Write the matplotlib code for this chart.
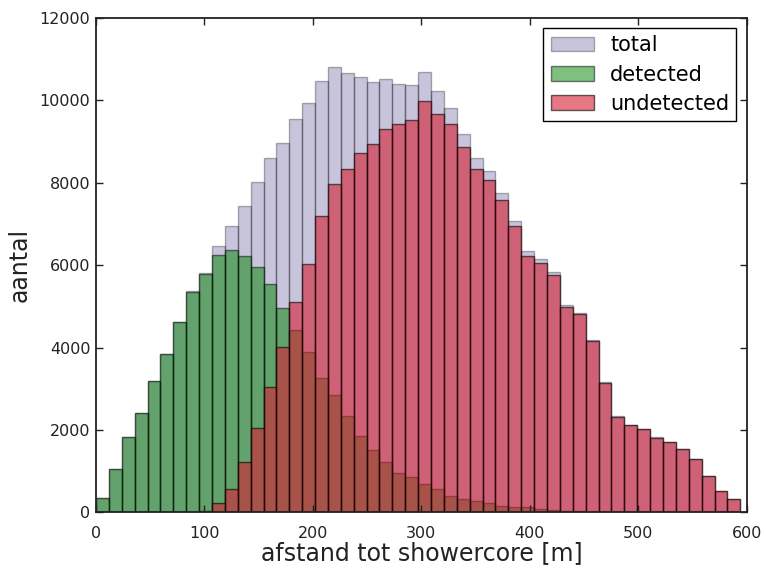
import matplotlib
matplotlib.use("Agg")
import matplotlib.pyplot as plt
import numpy as np

# 50 bins of the core distance (m)
r_max = 594
n_bins = 50

detected = [350, 1054, 1822, 2420, 3188, 3834, 4610, 5354, 5782, 6234,
            6364, 6218, 5960, 5547, 4950, 4424, 3899, 3269, 2848, 2339,
            1863, 1515, 1216, 966, 853, 691, 570, 400, 320, 271,
            223, 165, 125, 125, 95, 70, 45, 35, 24, 18,
            14, 10, 8, 6, 5, 4, 3, 2, 1, 1]
undetected = [0, 0, 0, 0, 0, 0, 0, 10, 32, 223,
              570, 1216, 2041, 3050, 4020, 5111, 6017, 7188, 7964, 8320,
              8707, 8925, 9297, 9426, 9507, 9984, 9653, 9410, 8868, 8327,
              8053, 7576, 6945, 6218, 6041, 5750, 4990, 4812, 4160, 3150,
              2323, 2121, 2016, 1814, 1701, 1539, 1289, 885, 521, 327]

x_ticks = [0, 100, 200, 300, 400, 500, 600]
y_ticks = [0, 2000, 4000, 6000, 8000, 10000, 12000]

edges = np.linspace(0, r_max, n_bins + 1)
centers = (edges[:-1] + edges[1:]) / 2
detected = np.array(detected)
undetected = np.array(undetected)
total = detected + undetected

fig = plt.figure(figsize=(7.66, 5.69), dpi=100)
ax = fig.add_axes([0.1253, 0.0993, 0.8497, 0.8699])

ax.hist(centers, bins=edges, weights=total, color="darkslateblue", alpha=0.3,
        edgecolor="black", linewidth=1, label="total")
ax.hist(centers, bins=edges, weights=detected, color="green", alpha=0.5,
        edgecolor="black", linewidth=1, label="detected")
ax.hist(centers, bins=edges, weights=undetected, color=(0.84, 0.12, 0.2), alpha=0.6,
        edgecolor="black", linewidth=1, label="undetected")

ax.set_xlim(0, 600)
ax.set_ylim(0, 12000)
ax.set_xticks(x_ticks)
ax.set_yticks(y_ticks)
ax.tick_params(direction="in", length=5, width=1, top=True, right=True,
               labelsize=11.5, colors="#222222")
ax.tick_params(axis="x", pad=10)
ax.tick_params(axis="y", pad=4)
for side in ("top", "left", "right", "bottom"):
    ax.spines[side].set_linewidth(1.3)
    ax.spines[side].set_color("#222222")

ax.set_xlabel("afstand tot showercore [m]", fontsize=17, color="#222222", labelpad=0)
ax.set_ylabel("aantal", fontsize=17, color="#222222", labelpad=6)

leg = ax.legend(loc="upper right", fontsize=15, fancybox=False, framealpha=1,
                edgecolor="black", handlelength=2.1, handletextpad=0.75,
                borderpad=0.35, labelspacing=0.45)
leg.get_frame().set_linewidth(1)

fig.savefig("out.png", dpi=100)
